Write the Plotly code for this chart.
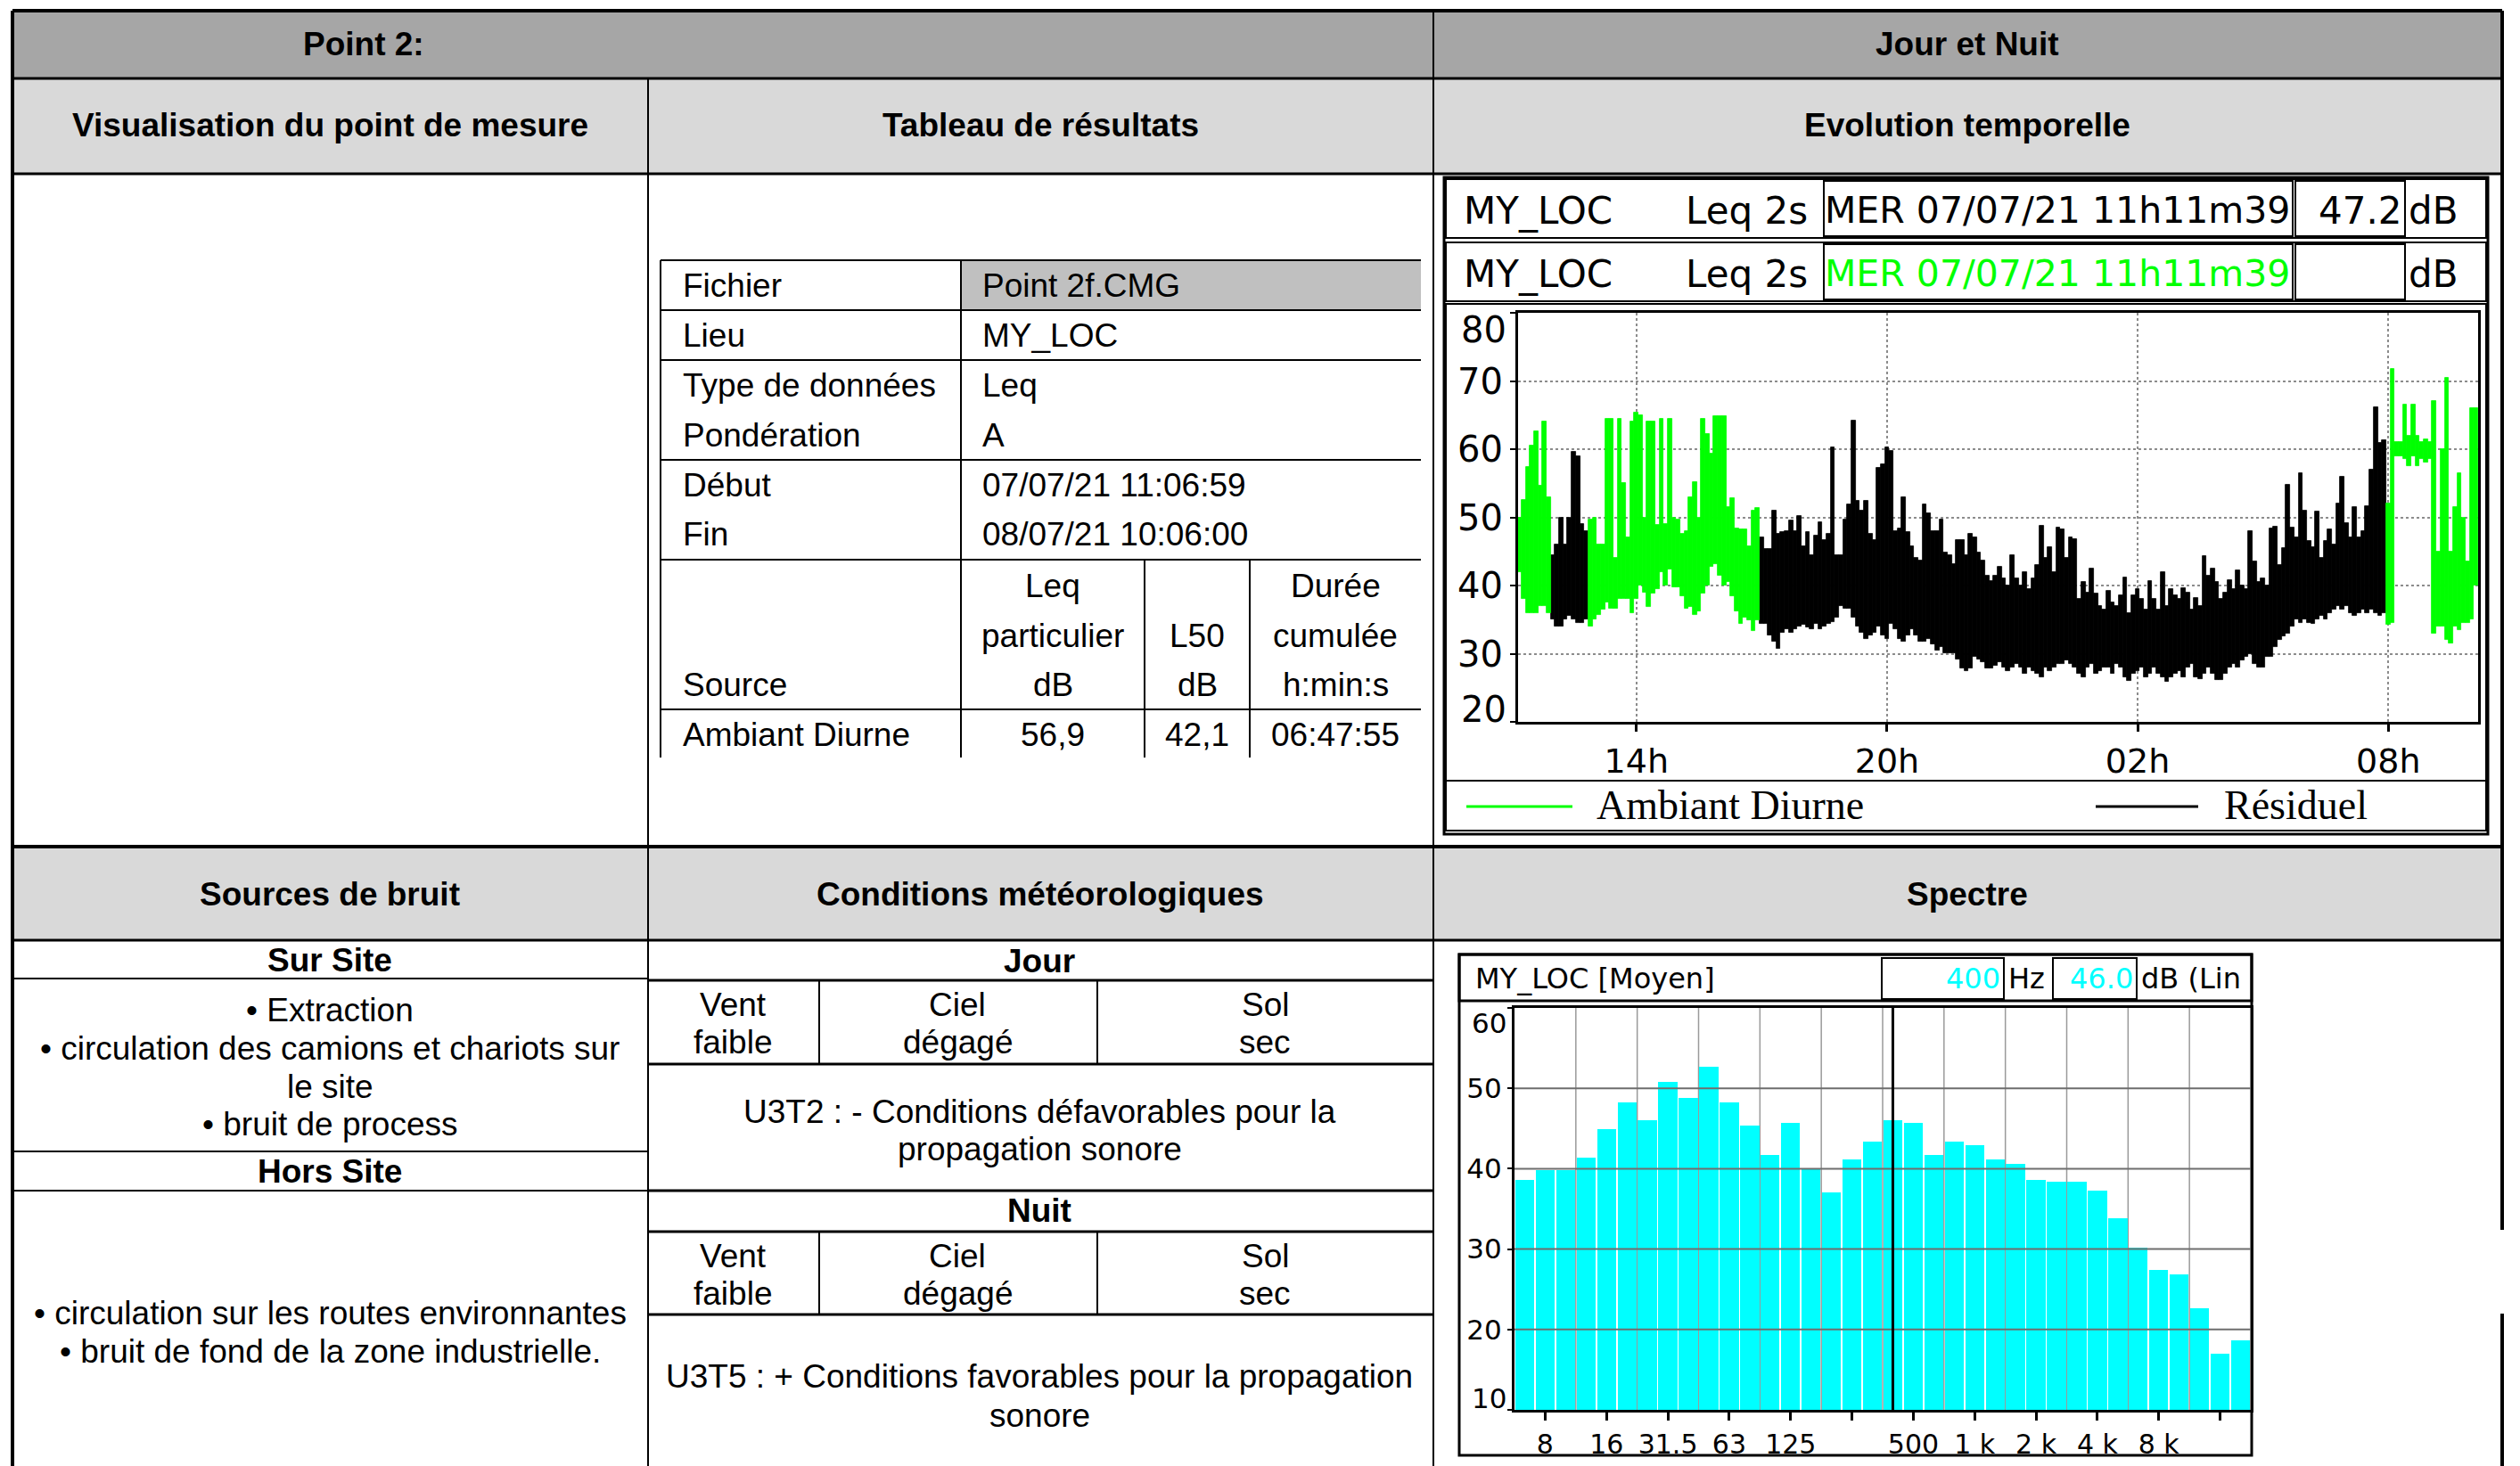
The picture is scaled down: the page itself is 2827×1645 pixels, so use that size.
import plotly.graph_objects as go
import pandas as pd

W, H = 2827, 1645
OFF = 8  # default page body margin

# ---------------- Evolution temporelle (Leq 2s, min / max par tranche de 6 min) ----------------
debut_tranches = "2021-07-07 11:12:00"
pas_minutes = 6
niveau_min = [
    42, 38, 36, 36, 36, 37, 37, 36, 35, 34,
    34, 35, 35.5, 35, 34.5, 34.5, 35, 34, 35, 35.7,
    36.5, 37.5, 36.6, 36.6, 38, 38, 38, 36, 38, 40,
    39, 36.8, 38.8, 39.5, 42, 40, 42.3, 39.7, 39.7, 38.4,
    36.6, 36.8, 35.7, 36.2, 38.8, 40, 42.7, 43.2, 41.4, 40,
    40.5, 38.4, 36.2, 34.4, 35.3, 34.9, 33.3, 34.9, 34.4, 34.4,
    32.7, 31.8, 30.7, 33.1, 33.6, 33.1, 33.6, 34, 34.2, 33.8,
    33.6, 34.4, 33.6, 34, 34.4, 34.7, 35.3, 37, 36.6, 36.6,
    35.3, 34, 33.1, 32.2, 32.7, 33.1, 34, 32.7, 32.2, 34.4,
    33.6, 32.2, 31.8, 32.7, 33.6, 32.7, 31.8, 31.8, 32.2, 31.4,
    30.5, 31, 30.1, 30.1, 30.1, 29.2, 27.9, 27.4, 27.9, 29.6,
    29.2, 28.7, 27.9, 27.9, 28.3, 28.7, 28, 27.5, 28, 28.5,
    28, 27, 28, 27.5, 27, 26.5, 28, 27.5, 28, 28.5,
    28.5, 29, 28.5, 28, 27, 26.5, 28, 28.5, 27, 27.5,
    28, 28, 27, 28.5, 28, 26.5, 26, 27, 27.5, 28,
    26.5, 27, 28, 27, 26.5, 25.9, 26.5, 27, 27.5, 26.5,
    28, 28.5, 26.5, 26.3, 27, 28, 27, 26.2, 26.2, 27,
    28, 28.5, 28, 29, 29.5, 30, 28.5, 28, 28, 29.5,
    29.5, 31, 32, 32.5, 33, 34, 35, 34.5, 35, 34.5,
    34.4, 35, 35.5, 35, 36, 36.5, 37, 36.5, 37, 36,
    35.5, 36, 36.5, 36, 36.5, 36, 35.5, 36, 34.2, 34.5,
    59, 59, 58.5, 57.5, 59, 57.5, 58.5, 58, 58.5, 33,
    34, 34, 32, 31.5, 34, 33.5, 34.5, 34.5, 35, 40,
]
niveau_max = [
    50, 52.6, 57.4, 60.5, 62.6, 54.6, 64, 53, 44.5, 46,
    50, 46, 50, 59.6, 59, 49, 48, 49.7, 50, 46,
    46, 64.4, 64.4, 44, 64.4, 55, 47, 64, 65.3, 65,
    50, 64, 64, 48.9, 64.4, 49, 64.4, 50, 49.7, 47.6,
    48, 53, 55.2, 50, 64.4, 62.2, 59.4, 64.8, 64.8, 64.8,
    51.5, 52.8, 48.4, 48.2, 48.2, 45.8, 51, 51.4, 47.1, 45.4,
    45.4, 51, 47.6, 47.8, 48, 49.5, 48, 50.2, 45.8, 47.8,
    44.5, 47.3, 49.3, 46.7, 47.6, 60.2, 44.5, 44.5, 49.7, 51.9,
    64.2, 52.4, 51, 52.4, 47.6, 46.7, 57.2, 57.8, 60.2, 59.8,
    48, 48.4, 53, 47.8, 45.8, 44, 43.6, 51.9, 50.6, 48,
    48, 49.7, 44.9, 44.5, 43.2, 46.7, 46.7, 44.5, 47.6, 47.1,
    44.9, 43.6, 41.4, 40.6, 41.4, 42.7, 41, 40, 44.5, 41,
    40, 42, 39.5, 41, 43, 48.7, 44, 45.6, 42, 48.5,
    48.2, 44, 47, 46.8, 38, 40.5, 39, 42.5, 38.8, 37,
    36.5, 39.2, 37.5, 37, 38.5, 41.2, 36, 38.5, 39.5, 38,
    36.5, 40.6, 38, 36.5, 41.9, 37, 39.5, 38.6, 38, 39.6,
    39, 36.5, 38.2, 37, 44.3, 41.5, 42.5, 40.5, 38, 39,
    40.8, 39.5, 42.2, 40, 39.5, 48, 43.5, 40.5, 41, 40,
    48.4, 48.6, 43, 45.5, 54.8, 48.5, 47, 56.5, 51, 46.5,
    45.6, 50.8, 44, 46.5, 48.2, 46, 52, 56, 49.2, 47,
    51.5, 47, 48, 51.7, 57, 66.2, 60.9, 61.3, 52, 71.8,
    61, 61, 66.5, 62, 66.5, 62, 61, 61.5, 61, 67,
    45, 60, 70.5, 45, 51.5, 56.5, 50, 43.5, 66, 66,
]
# (source, premiere tranche, derniere tranche exclue)
segments_sources = [
    ("Ambiant Diurne", 0, 8),
    ("Résiduel", 8, 17),
    ("Ambiant Diurne", 17, 58),
    ("Résiduel", 58, 208),
    ("Ambiant Diurne", 208, 230),
]
couleurs_sources = {"Ambiant Diurne": "#00FF00", "Résiduel": "#000000"}
heures_ticks = ["2021-07-07 14:00", "2021-07-07 20:00", "2021-07-08 02:00", "2021-07-08 08:00"]
plage_temps = ["2021-07-07 11:10", "2021-07-08 10:09"]
plage_db_temps = [20, 80]

# ---------------- Spectre (tiers d'octave, Lin) ----------------
frequences = ["6.3", "8", "10", "12.5", "16", "20", "25", "31.5", "40", "50", "63", "80",
              "100", "125", "160", "200", "250", "315", "400", "500", "630", "800",
              "1 k", "1.25 k", "1.6 k", "2 k", "2.5 k", "3.15 k", "4 k", "5 k", "6.3 k",
              "8 k", "10 k", "12.5 k", "16 k", "20 k"]
spectre_db = [38.6, 39.8, 39.8, 41.4, 44.9, 48.2, 46.0, 50.8, 48.8, 52.7, 48.2, 45.4,
              41.7, 45.7, 40.0, 37.0, 41.2, 43.4, 46.0, 45.7, 41.7, 43.4,
              42.9, 41.2, 40.6, 38.6, 38.4, 38.4, 37.3, 33.8, 30.2,
              27.4, 26.9, 22.6, 17.0, 18.7]
freq_ticks = ["8", "16", "31.5", "63", "125", "250", "500", "1 k", "2 k", "4 k", "8 k", "16 k"]
freq_tick_labels = ["8", "16", "31.5", "63", "125", "", "500", "1 k", "2 k", "4 k", "8 k", ""]
grille_spectre = [20, 30, 40, 50]
plage_db_spectre = [10, 60]
curseur_freq = "400"

# ---------------- Tableau de résultats ----------------
tableau_libelles = ["Fichier", "Lieu", "Type de données", "Pondération", "Début", "Fin"]
tableau_valeurs = ["Point 2f.CMG", "MY_LOC", "Leq", "A", "07/07/21 11:06:59", "08/07/21 10:06:00"]
resultat_source = "Ambiant Diurne"
resultat_leq = "56,9"
resultat_l50 = "42,1"
resultat_duree = "06:47:55"

# ================================================================
FW, FH = W - OFF, H - OFF


def X(px):
    return (px - OFF) / FW


def Y(py):
    return 1 - (py - OFF) / FH


shapes = []
annotations = []


def line(x0, y0, x1, y1, w=2, color="black"):
    shapes.append(dict(type="line", xref="paper", yref="paper", x0=X(x0), y0=Y(y0),
                       x1=X(x1), y1=Y(y1), line=dict(color=color, width=w), layer="above"))


def rect(x0, y0, x1, y1, fill=None, w=0, color="black", layer="below"):
    shapes.append(dict(type="rect", xref="paper", yref="paper", x0=X(x0), y0=Y(y0),
                       x1=X(x1), y1=Y(y1), fillcolor=fill if fill else "rgba(0,0,0,0)",
                       line=dict(color=color, width=w), layer=layer))


def txt(x, y, s, size=37, bold=False, anchor="center", color="black", family="Liberation Sans"):
    annotations.append(dict(xref="paper", yref="paper", x=X(x), y=Y(y),
                            text=f"<b>{s}</b>" if bold else s, showarrow=False,
                            xanchor=anchor, yanchor="middle",
                            font=dict(size=size, color=color, family=family)))


fig = go.Figure()

# ---- time series (min/max bars per slot) ----
n = len(niveau_min)
t_index = pd.date_range(debut_tranches, periods=n, freq=f"{pas_minutes}min")
temps = t_index.strftime("%Y-%m-%d %H:%M:%S").tolist()
for source in ["Résiduel", "Ambiant Diurne"]:
    base = [None] * n
    haut = [None] * n
    for s, a, b in segments_sources:
        if s == source:
            for i in range(a, b):
                base[i] = niveau_min[i]
                haut[i] = niveau_max[i] - niveau_min[i]
    c = couleurs_sources[source]
    fig.add_trace(go.Bar(x=temps, y=haut, base=base, name=source,
                         marker=dict(color=c, line=dict(color=c, width=0.8)),
                         width=pas_minutes * 60 * 1000, xaxis="x", yaxis="y",
                         showlegend=False, hoverinfo="skip"))

# ---- spectrum ----
fig.add_trace(go.Bar(x=frequences, y=spectre_db, width=0.93,
                     marker=dict(color="#00FFFF", line=dict(width=0)),
                     xaxis="x2", yaxis="y2", showlegend=False, hoverinfo="skip"))

# ================= table structure =================
rect(14, 12, 2807, 88, fill="#a6a6a6")
rect(14, 88, 2807, 195, fill="#d9d9d9")
rect(14, 950, 2807, 1055, fill="#d9d9d9")
rect(1078, 292, 1594, 348, fill="#c0c0c0")

line(14, 12, 2807, 12, 4)
line(14, 88, 2807, 88, 3)
line(14, 195, 2807, 195, 3)
line(14, 950, 2807, 950, 4)
line(14, 1055, 2807, 1055, 3)
line(14, 12, 14, 1645, 4)
line(727, 88, 727, 1645, 2)
line(1608, 12, 1608, 1645, 2)
line(2807, 12, 2807, 1380, 4)
line(2807, 1474, 2807, 1645, 4)

txt(408, 50, "Point 2:", bold=True)
txt(2207, 50, "Jour et Nuit", bold=True)
txt(370, 141, "Visualisation du point de mesure", bold=True)
txt(1167, 141, "Tableau de résultats", bold=True)
txt(2207, 141, "Evolution temporelle", bold=True)
txt(370, 1003, "Sources de bruit", bold=True)
txt(1167, 1003, "Conditions météorologiques", bold=True)
txt(2207, 1003, "Spectre", bold=True)

# ---- results table ----
for yy in [292, 348, 404, 516, 628, 796]:
    line(741, yy, 1594, yy, 2)
line(741, 292, 741, 850, 2)
line(1078, 292, 1078, 850, 2)
line(1284, 628, 1284, 850, 2)
line(1402, 628, 1402, 850, 2)
for k, (lab, val) in enumerate(zip(tableau_libelles, tableau_valeurs)):
    yy = 321 + 55.8 * k
    txt(764, yy, lab, anchor="left")
    txt(1100, yy, val, anchor="left")
txt(1181, 657, "Leq")
txt(1181, 713, "particulier")
txt(1181, 768, "dB")
txt(1343, 713, "L50")
txt(1343, 768, "dB")
txt(1498, 657, "Durée")
txt(1498, 713, "cumulée")
txt(1498, 768, "h:min:s")
txt(764, 768, "Source", anchor="left")
txt(764, 824, resultat_source, anchor="left")
txt(1181, 824, resultat_leq)
txt(1343, 824, resultat_l50)
txt(1498, 824, resultat_duree)

# ---- sources de bruit ----
for yy in [1098, 1292, 1336]:
    line(14, yy, 727, yy, 2)
txt(370, 1077, "Sur Site", bold=True)
txt(370, 1133, "• Extraction")
txt(370, 1176, "• circulation des camions et chariots sur")
txt(370, 1219, "le site")
txt(370, 1261, "• bruit de process")
txt(370, 1314, "Hors Site", bold=True)
txt(370, 1473, "• circulation sur les routes environnantes")
txt(370, 1516, "• bruit de fond de la zone industrielle.")

# ---- conditions météo ----
for yy in [1100, 1194, 1336, 1382, 1475]:
    line(727, yy, 1608, yy, 3)
for (ya, yb) in [(1100, 1194), (1382, 1475)]:
    line(919, ya, 919, yb, 2)
    line(1231, ya, 1231, yb, 2)
txt(1166, 1078, "Jour", bold=True)
txt(1166, 1358, "Nuit", bold=True)
for y1, y2 in [(1127, 1169), (1409, 1451)]:
    txt(822, y1, "Vent")
    txt(822, y2, "faible")
    txt(1074, y1, "Ciel")
    txt(1074, y2, "dégagé")
    txt(1419, y1, "Sol")
    txt(1419, y2, "sec")
txt(1166, 1247, "U3T2 : - Conditions défavorables pour la")
txt(1166, 1289, "propagation sonore")
txt(1166, 1544, "U3T5 : + Conditions favorables pour la propagation")
txt(1166, 1588, "sonore")

# ================= time-series frame =================
rect(1620, 199, 2791, 936, w=3, layer="above")
for (ya, yb, col, val) in [(201, 267, "black", "47.2"), (272, 338, "#00FF00", "")]:
    rect(1622, ya, 2789, yb, w=2, layer="above")
    rect(2046, ya + 2, 2572, yb - 2, w=2, layer="above")
    rect(2575, ya + 2, 2698, yb - 2, w=2, layer="above")
    yc = (ya + yb) / 2 + 2
    txt(1640, yc, "MY_LOC", size=42, anchor="left", family="DejaVu Sans")
    txt(1889, yc, "Leq 2s", size=42, anchor="left", family="DejaVu Sans")
    txt(2571, yc, "MER 07/07/21 11h11m39", size=41, anchor="right", color=col, family="DejaVu Sans")
    if val:
        txt(2697, yc, val, size=42, anchor="right", family="DejaVu Sans")
    txt(2700, yc, "dB", size=42, anchor="left", family="DejaVu Sans")
rect(1622, 341, 2789, 876, w=2, layer="above")
rect(1622, 876, 2789, 932, w=2, layer="above")
line(1645, 905, 1764, 905, 3, "#00FF00")
line(2351, 905, 2466, 905, 3, "black")
txt(1789, 904, "Ambiant Diurne", size=46, anchor="left", family="Liberation Serif")
txt(2493, 904, "Résiduel", size=46, anchor="left", family="Liberation Serif")

# edge labels of the level axis are kept inside the plot, as in the instrument software
ts_ticks = list(range(plage_db_temps[0], plage_db_temps[1] + 1, 10))
ts_ticktext = [""] + [str(v) for v in ts_ticks[1:-1]] + [""]
txt(1692, 370, str(plage_db_temps[1]), size=40, anchor="right", family="DejaVu Sans")
txt(1692, 796, str(plage_db_temps[0]), size=40, anchor="right", family="DejaVu Sans")

# ================= spectrum frame =================
rect(1637, 1071, 2526, 1633, w=3, layer="above")
rect(1637, 1071, 2526, 1123, w=3, layer="above")
rect(2111, 1075, 2248, 1121, w=2, layer="above")
rect(2303, 1075, 2397, 1121, w=2, layer="above")
i_curseur = frequences.index(curseur_freq)
txt(1653, 1098, "MY_LOC [Moyen]", size=32, anchor="left", family="DejaVu Sans")
txt(2246, 1098, curseur_freq, size=32, anchor="right", color="#00FFFF", family="DejaVu Sans")
txt(2251, 1098, "Hz", size=32, anchor="left", family="DejaVu Sans")
txt(2395, 1098, f"{spectre_db[i_curseur]:.1f}", size=32, anchor="right", color="#00FFFF", family="DejaVu Sans")
txt(2400, 1098, "dB (Lin", size=32, anchor="left", family="DejaVu Sans")

sp_ticks = list(range(plage_db_spectre[0], plage_db_spectre[1] + 1, 10))
sp_ticktext = [""] + [str(v) for v in sp_ticks[1:-1]] + [""]
txt(1692, 1148, str(plage_db_spectre[1]), size=31, anchor="right", family="DejaVu Sans")
txt(1692, 1569, str(plage_db_spectre[0]), size=31, anchor="right", family="DejaVu Sans")

for ft in freq_ticks[:-1]:
    xg = frequences.index(ft) + 1.5
    shapes.append(dict(type="line", xref="x2", yref="y2 domain", x0=xg, x1=xg, y0=0, y1=1,
                       line=dict(color="#9a9a9a", width=1.5), layer="below"))
for g in grille_spectre:
    shapes.append(dict(type="line", xref="x2 domain", yref="y2", x0=0, x1=1, y0=g, y1=g,
                       line=dict(color="#6e6e6e", width=2), layer="above"))
shapes.append(dict(type="line", xref="x2", yref="y2 domain", x0=i_curseur, x1=i_curseur,
                   y0=0, y1=1, line=dict(color="black", width=3), layer="above"))

axis_common = dict(showline=True, linecolor="black", mirror=True, zeroline=False,
                   tickcolor="black", ticks="outside", automargin=False)

fig.update_layout(
    width=FW, height=FH, autosize=False,
    margin=dict(l=0, r=0, t=0, b=0, pad=0, autoexpand=False),
    paper_bgcolor="white", plot_bgcolor="white",
    barmode="overlay", bargap=0,
    showlegend=False,
    xaxis=dict(domain=[X(1703), X(2780)], anchor="y", type="date", range=plage_temps,
               tickvals=heures_ticks, tickformat="%Hh", ticklen=8, tickwidth=3, linewidth=3,
               showgrid=True, gridcolor="#8c8c8c", griddash="dot", gridwidth=1.5,
               tickfont=dict(family="DejaVu Sans", size=38, color="black"),
               ticklabelstandoff=0, **axis_common),
    yaxis=dict(domain=[Y(810), Y(351)], anchor="x", range=plage_db_temps,
               tickvals=ts_ticks, ticktext=ts_ticktext,
               ticklen=6, tickwidth=2, linewidth=3,
               showgrid=True, gridcolor="#8c8c8c", griddash="dot", gridwidth=1.5,
               tickfont=dict(family="DejaVu Sans", size=40, color="black"), **axis_common),
    xaxis2=dict(domain=[X(1699), X(2525)], anchor="y2", type="category", range=[-0.5, 35.5],
                tickvals=freq_ticks, ticktext=freq_tick_labels, ticklen=9, tickwidth=3,
                linewidth=3, showgrid=False,
                tickfont=dict(family="DejaVu Sans", size=30, color="black"),
                ticklabelstandoff=1, **axis_common),
    yaxis2=dict(domain=[Y(1582), Y(1131)], anchor="x2", range=plage_db_spectre,
                tickvals=sp_ticks, ticktext=sp_ticktext,
                ticklen=5, tickwidth=2, linewidth=3, showgrid=False,
                tickfont=dict(family="DejaVu Sans", size=31, color="black"), **axis_common),
    shapes=shapes,
    annotations=annotations,
)

fig.write_html("out.html")
